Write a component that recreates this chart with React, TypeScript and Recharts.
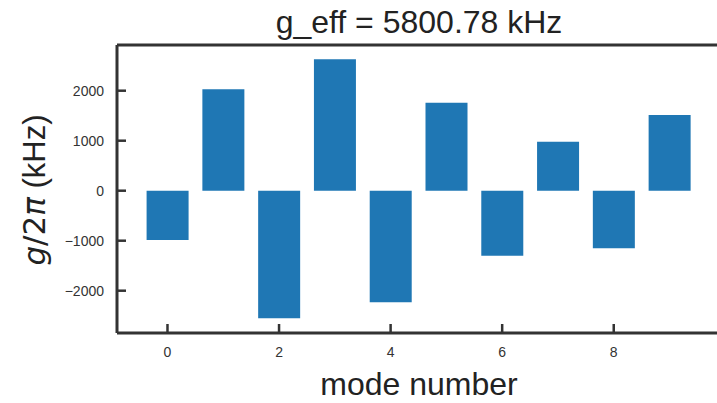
import React from "react";
import { BarChart, Bar, XAxis, YAxis, ReferenceLine } from "recharts";

const modes = [0, 1, 2, 3, 4, 5, 6, 7, 8, 9];
const couplings = [-985, 2030, -2550, 2630, -2230, 1760, -1300, 980, -1150, 1515];
const xTicks = [0, 2, 4, 6, 8];
const yTicks = [-2000, -1000, 0, 1000, 2000];
const titleText = "g_eff = 5800.78 kHz";
const xLabel = "mode number";

const data = modes.map((m, i) => ({ mode: m, g: couplings[i] }));

const AXIS = "#333333";
const FONT = "'Liberation Sans', Arial, sans-serif";
const MATH = "'DejaVu Sans', sans-serif";

const fmt = (v: number) => (v < 0 ? "\u2212" + Math.abs(v) : String(v));

const XTick = (props: any) => {
  const { x, y, payload } = props;
  return (
    <g>
      <line x1={x} x2={x} y1={y - 12} y2={y - 21} stroke={AXIS} strokeWidth={2.5} />
      <text x={x} y={y} dy={12} textAnchor="middle" fontSize={14} fill={AXIS} fontFamily={FONT}>
        {fmt(payload.value)}
      </text>
    </g>
  );
};

const YTick = (props: any) => {
  const { x, y, payload } = props;
  return (
    <g>
      <line x1={x + 12} x2={x + 21} y1={y} y2={y} stroke={AXIS} strokeWidth={2.5} />
      <text x={x - 1} y={y} dy={5} textAnchor="end" fontSize={14} fill={AXIS} fontFamily={FONT}>
        {fmt(payload.value)}
      </text>
    </g>
  );
};

export default function App() {
  return (
    <div style={{ position: "absolute", left: 0, top: 0, width: 717, height: 403, overflow: "hidden", background: "#fff" }}>
      <BarChart
        width={722}
        height={403}
        data={data}
        margin={{ top: 45, right: 2, left: 57, bottom: 30 }}
      >
        <XAxis
          dataKey="mode"
          type="number"
          domain={[-0.905, 9.905]}
          ticks={xTicks}
          allowDataOverflow
          height={40}
          tickSize={0}
          tickMargin={12}
          tickLine={false}
          axisLine={{ stroke: AXIS, strokeWidth: 3 }}
          tick={<XTick />}
        />
        <YAxis
          type="number"
          domain={[-2846, 2914]}
          ticks={yTicks}
          allowDataOverflow
          width={60}
          tickSize={0}
          tickMargin={12}
          tickLine={false}
          axisLine={{ stroke: AXIS, strokeWidth: 3 }}
          tick={<YTick />}
        />
        <ReferenceLine y={2914} stroke={AXIS} strokeWidth={3} />
        <ReferenceLine x={9.905} stroke={AXIS} strokeWidth={3} />
        <Bar dataKey="g" fill="#1f77b4" barSize={42} isAnimationActive={false} />
      </BarChart>
      <svg width={717} height={403} style={{ position: "absolute", left: 0, top: 0, pointerEvents: "none" }}>
        <text x={419} y={33} textAnchor="middle" fontSize={32} fill="#222" fontFamily={FONT}>
          {titleText}
        </text>
        <text x={419} y={395} textAnchor="middle" fontSize={32} fill="#222" fontFamily={FONT}>
          {xLabel}
        </text>
        <text
          transform="translate(45,190) rotate(-90)"
          textAnchor="middle"
          fontSize={31}
          fill="#222"
          fontFamily={FONT}
        >
          <tspan fontStyle="italic" fontFamily={MATH}>g</tspan>
          <tspan fontFamily={MATH}>/2</tspan>
          <tspan fontStyle="italic" fontFamily={MATH}>π</tspan>
          <tspan> (kHz)</tspan>
        </text>
      </svg>
    </div>
  );
}
